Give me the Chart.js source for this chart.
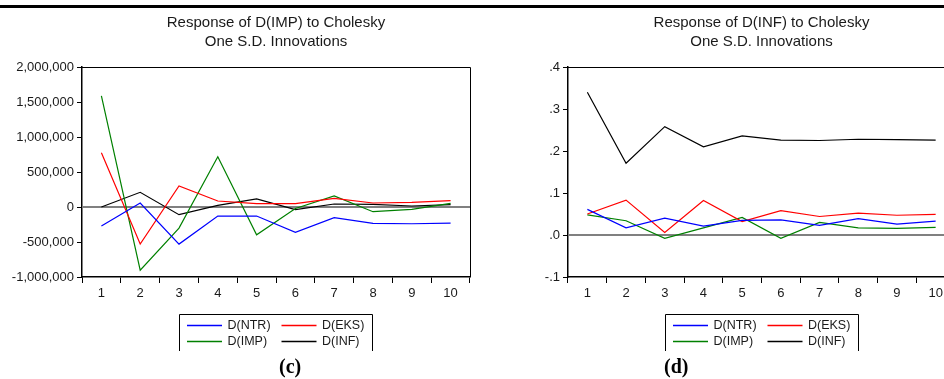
<!DOCTYPE html>
<html>
<head>
<meta charset="utf-8">
<script src="https://cdn.jsdelivr.net/npm/chart.js@4.4.1/dist/chart.umd.min.js"></script>
<style>
  html, body { margin: 0; padding: 0; background: #fff; }
  #page { position: relative; width: 944px; height: 379px; overflow: hidden; }
  .rule { position: absolute; left: 0; top: 5px; width: 944px; height: 3px; background: #000; }
  .panel { position: absolute; top: 0; width: 480px; height: 379px; }
  .tag { position: absolute; font: bold 20px "Liberation Serif", "Times New Roman", serif; color: #000; }
</style>
</head>
<body>
<div id="page">
  <div class="rule"></div>
  <div class="panel" style="left:0"><canvas id="chartC" width="480" height="379"></canvas></div>
  <div class="panel" style="left:486px"><canvas id="chartD" width="480" height="379"></canvas></div>
  <div class="tag" style="left:279px; top:355px">(c)</div>
  <div class="tag" style="left:664px; top:355px">(d)</div>
</div>
<script>
"use strict";

// horizons 1..10
var periods = ['1', '2', '3', '4', '5', '6', '7', '8', '9', '10'];
var seriesNames = ['D(NTR)', 'D(EKS)', 'D(IMP)', 'D(INF)'];
var seriesColors = ['#0000ff', '#ff0000', '#008000', '#000000'];

// Response of D(IMP)
var impNTR = [-272000, 57000, -530000, -129000, -129000, -363000, -153000, -234000, -239000, -229000];
var impEKS = [774000, -530000, 301000, 86000, 48000, 48000, 124000, 57000, 67000, 91000];
var impIMP = [1586000, -903000, -301000, 717000, -397000, -22000, 158000, -67000, -33000, 53000];
var impINF = [0, 210000, -110000, 24000, 115000, -38000, 43000, 38000, 14000, 33000];

// Response of D(INF)
var infNTR = [0.061, 0.017, 0.040, 0.021, 0.035, 0.036, 0.023, 0.039, 0.026, 0.033];
var infEKS = [0.050, 0.083, 0.006, 0.082, 0.032, 0.058, 0.044, 0.052, 0.047, 0.049];
var infIMP = [0.048, 0.034, -0.008, 0.017, 0.042, -0.008, 0.030, 0.017, 0.016, 0.018];
var infINF = [0.340, 0.171, 0.258, 0.210, 0.236, 0.226, 0.225, 0.228, 0.227, 0.226];

var FONT = '"Liberation Sans", Arial, Helvetica, sans-serif';
var INK = '#1a1a1a';

// title, frame, zero line and boxed legend the way EViews draws them
var evPlugin = {
    id: 'evFrame',
    beforeDatasetsDraw: function (chart) {
        var ctx = chart.ctx, a = chart.chartArea, y0 = chart.scales.y.getPixelForValue(0);
        ctx.save();
        ctx.strokeStyle = '#808080';
        ctx.lineWidth = 2;
        ctx.beginPath();
        ctx.moveTo(a.left, y0);
        ctx.lineTo(a.right, y0);
        ctx.stroke();
        ctx.restore();
    },
    afterDraw: function (chart, args, opts) {
        var ctx = chart.ctx, a = chart.chartArea;
        ctx.save();
        // top + right frame
        ctx.strokeStyle = '#000';
        ctx.lineWidth = 1;
        ctx.beginPath();
        ctx.moveTo(a.left, a.top + 0.5);
        ctx.lineTo(a.right + 0.5, a.top + 0.5);
        ctx.lineTo(a.right + 0.5, a.bottom);
        ctx.stroke();

        // title
        var cx = (a.left + a.right) / 2;
        ctx.fillStyle = INK;
        ctx.font = '15px ' + FONT;
        ctx.textAlign = 'center';
        ctx.textBaseline = 'middle';
        opts.title.forEach(function (line, i) {
            ctx.fillText(line, cx, 23 + i * 19);
        });

        // legend box (no bottom edge, cut off in the original)
        var bx = 179.5, bw = 193, by = 314.5, bb = 351;
        ctx.strokeStyle = '#000';
        ctx.lineWidth = 1;
        ctx.beginPath();
        ctx.moveTo(bx, bb);
        ctx.lineTo(bx, by);
        ctx.lineTo(bx + bw, by);
        ctx.lineTo(bx + bw, bb);
        ctx.stroke();

        ctx.font = '12.5px ' + FONT;
        ctx.textAlign = 'left';
        chart.data.datasets.forEach(function (ds, i) {
            var col = i % 2, row = Math.floor(i / 2);
            var lx = 187 + col * 94.5, ly = 325.5 + row * 16;
            ctx.fillStyle = seriesColors[i];
            ctx.fillRect(lx, ly - 0.75, 35, 1.5);
            ctx.fillStyle = INK;
            ctx.fillText(ds.label, lx + 40.5, ly);
        });
        ctx.restore();
    }
};

function makeChart(id, values, yMin, yMax, yStep, fmt, title, padRight) {
    var ctx = document.getElementById(id).getContext('2d');
    return new Chart(ctx, {
        type: 'line',
        data: {
            labels: periods,
            datasets: values.map(function (v, i) {
                return {
                    label: seriesNames[i],
                    data: v,
                    borderColor: seriesColors[i],
                    backgroundColor: seriesColors[i],
                    borderWidth: 1.2,
                    pointRadius: 0,
                    tension: 0,
                    fill: false
                };
            })
        },
        options: {
            responsive: false,
            animation: false,
            events: [],
            layout: { padding: { top: 67, bottom: 80, left: 0, right: padRight } },
            plugins: {
                legend: { display: false },
                tooltip: { enabled: false },
                title: { display: false },
                evFrame: { title: title }
            },
            scales: {
                x: {
                    offset: true,
                    grid: { offset: true, drawOnChartArea: false, drawTicks: true, tickLength: 6, color: '#000', lineWidth: 1 },
                    border: { color: '#000', width: 1.5 },
                    ticks: { color: INK, font: { family: FONT, size: 13 }, padding: 3, autoSkip: false, maxRotation: 0 },
                    afterFit: function (s) { s.height = 22; }
                },
                y: {
                    min: yMin,
                    max: yMax,
                    grid: { drawOnChartArea: false, drawTicks: true, tickLength: 5, color: '#000', lineWidth: 1 },
                    border: { color: '#000', width: 1.5 },
                    ticks: {
                        stepSize: yStep,
                        color: INK,
                        font: { family: FONT, size: 13 },
                        padding: 3,
                        callback: fmt
                    },
                    afterFit: function (s) { s.width = 82; }
                }
            }
        },
        plugins: [evPlugin]
    });
}

makeChart('chartC', [impNTR, impEKS, impIMP, impINF], -1000000, 2000000, 500000,
    function (v) { return Math.round(v).toLocaleString('en-US'); },
    ['Response of D(IMP) to Cholesky', 'One S.D. Innovations'], 10);

makeChart('chartD', [infNTR, infEKS, infIMP, infINF], -0.1, 0.4, 0.1,
    function (v) { return v.toFixed(1).replace('0.', '.'); },
    ['Response of D(INF) to Cholesky', 'One S.D. Innovations'], 11);
</script>
</body>
</html>
